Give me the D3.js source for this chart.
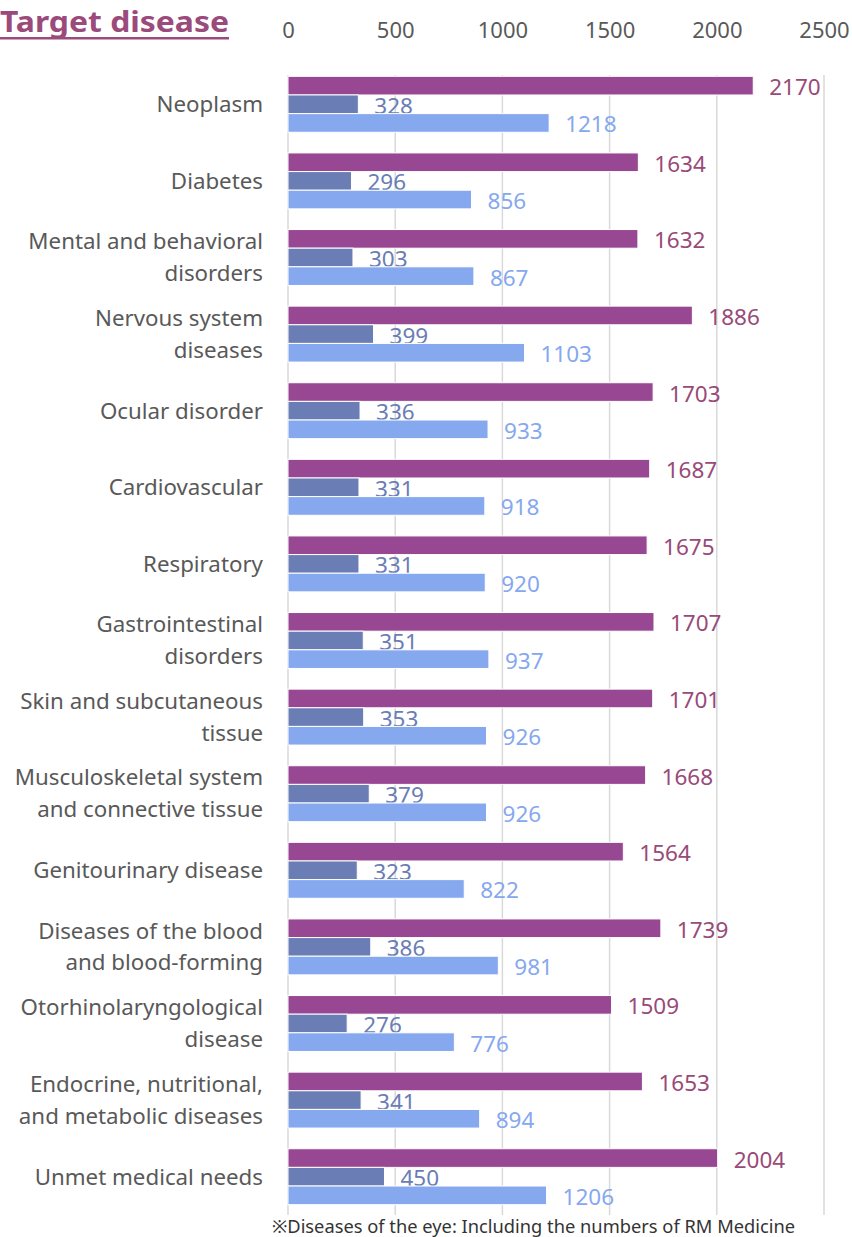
<!DOCTYPE html>
<html>
    <head>
        <meta charset="utf-8" />
        <title>Target disease</title>
        <script src="https://d3js.org/d3.v7.min.js"></script>
        <style>
            body {
                margin: 0px;
                background: white;
            }
            text {
                font-family: "Noto Sans", "Noto Sans CJK JP", sans-serif;
            }
            #x .tick text {
                fill: #595959;
            }
            #x .domain {
                display: none;
            }
        </style>
    </head>
    <body>
        <svg id="chart">
            <g id="x"></g>
            <g id="shapes"></g>
            <g id="labels"></g>
        </svg>
        <script>

        var width = 852;
        var height = 1237;

        var categories = [
            ["Neoplasm"],
            ["Diabetes"],
            ["Mental and behavioral", "disorders"],
            ["Nervous system", "diseases"],
            ["Ocular disorder"],
            ["Cardiovascular"],
            ["Respiratory"],
            ["Gastrointestinal", "disorders"],
            ["Skin and subcutaneous", "tissue"],
            ["Musculoskeletal system", "and connective tissue"],
            ["Genitourinary disease"],
            ["Diseases of the blood", "and blood-forming"],
            ["Otorhinolaryngological", "disease"],
            ["Endocrine, nutritional,", "and metabolic diseases"],
            ["Unmet medical needs"]
        ];
        var series1 = [2170, 1634, 1632, 1886, 1703, 1687, 1675, 1707, 1701, 1668, 1564, 1739, 1509, 1653, 2004];
        var series2 = [328, 296, 303, 399, 336, 331, 331, 351, 353, 379, 323, 386, 276, 341, 450];
        var series3 = [1218, 856, 867, 1103, 933, 918, 920, 937, 926, 926, 822, 981, 776, 894, 1206];
        var ticks = [0, 500, 1000, 1500, 2000, 2500];

        var seriesList = [
            { key: "s1", values: series1, fill: "#984793", label: "#984a78" },
            { key: "s2", values: series2, fill: "#6a7db5", label: "#6a7db5" },
            { key: "s3", values: series3, fill: "#86a8ef", label: "#86a8ef" }
        ];

        var svg = d3.select("#chart")
            .attr("width", width)
            .attr("height", height);

        var x = d3.scaleLinear()
            .domain([0, 2500])
            .range([288, 824]);

        var y = d3.scaleBand()
            .domain(d3.range(categories.length))
            .range([66, 1215])
            .paddingInner(0.27)
            .paddingOuter(0.135);

        var ySub = d3.scaleBand()
            .domain(seriesList.map(function(s) { return s.key; }))
            .range([0, y.bandwidth()]);

        // top axis with gridlines running down
        var xAxis = d3.axisTop(x)
            .tickValues(ticks)
            .tickFormat(d3.format("d"))
            .tickSize(0)
            .tickPadding(0);
        svg.select("#x")
            .attr("transform", "translate(0, 40)")
            .call(xAxis);
        svg.select("#x").selectAll(".tick text")
            .style("font-size", "22px")
            .attr("dy", "-0.1em");

        svg.select("#x").selectAll(".grid")
            .data(ticks)
            .enter().append("line")
            .attr("class", "grid")
            .attr("x1", function(d) { return x(d); })
            .attr("x2", function(d) { return x(d); })
            .attr("y1", 75 - 40)
            .attr("y2", 1215 - 40)
            .attr("stroke", "#d9d9d9")
            .attr("stroke-width", 1.5);

        // bars
        var groups = svg.select("#shapes").selectAll(".group")
            .data(categories)
            .enter().append("g")
            .attr("class", "group")
            .attr("transform", function(d, i) { return "translate(0," + y(i) + ")"; });

        groups.each(function(d, i) {
            var g = d3.select(this);
            seriesList.forEach(function(s) {
                g.append("rect")
                    .attr("x", x(0))
                    .attr("y", ySub(s.key))
                    .attr("width", x(s.values[i]) - x(0))
                    .attr("height", ySub.bandwidth())
                    .attr("fill", s.fill)
                    .attr("stroke", "white")
                    .attr("stroke-width", 1);

                g.append("text")
                    .attr("x", x(s.values[i]) + 16)
                    .attr("y", ySub(s.key) + ySub.bandwidth() / 2)
                    .attr("dy", "0.42em")
                    .attr("fill", s.label)
                    .style("font-size", "22.5px")
                    .text(s.values[i]);
            });
        });

        // category labels
        var catLabels = svg.select("#labels").selectAll(".cat")
            .data(categories)
            .enter().append("text")
            .attr("class", "cat")
            .attr("text-anchor", "end")
            .attr("fill", "#595959")
            .style("font-size", "22.3px")
            .attr("y", function(d, i) { return y(i) + y.bandwidth() / 2; });

        catLabels.selectAll("tspan")
            .data(function(d) { return d; })
            .enter().append("tspan")
            .attr("x", 263)
            .attr("dy", function(d, j, nodes) {
                if (j === 0) return nodes.length === 1 ? "0.35em" : "-0.37em";
                return "1.42em";
            })
            .text(function(d) { return d; });

        // title
        svg.append("text")
            .attr("x", 0)
            .attr("y", 32)
            .attr("fill", "#9b4a7c")
            .style("font-size", "29px")
            .style("font-weight", "bold")
            .attr("textLength", 229)
            .attr("lengthAdjust", "spacingAndGlyphs")
            .text("Target disease");
        svg.append("rect")
            .attr("x", 0)
            .attr("y", 37)
            .attr("width", 229)
            .attr("height", 2.5)
            .attr("fill", "#9b4a7c");

        // footnote
        svg.append("text")
            .attr("x", 272)
            .attr("y", 1233)
            .attr("fill", "#333333")
            .style("font-size", "18.3px")
            .text("※Diseases of the eye: Including the numbers of RM Medicine");

        </script>
    </body>
</html>
